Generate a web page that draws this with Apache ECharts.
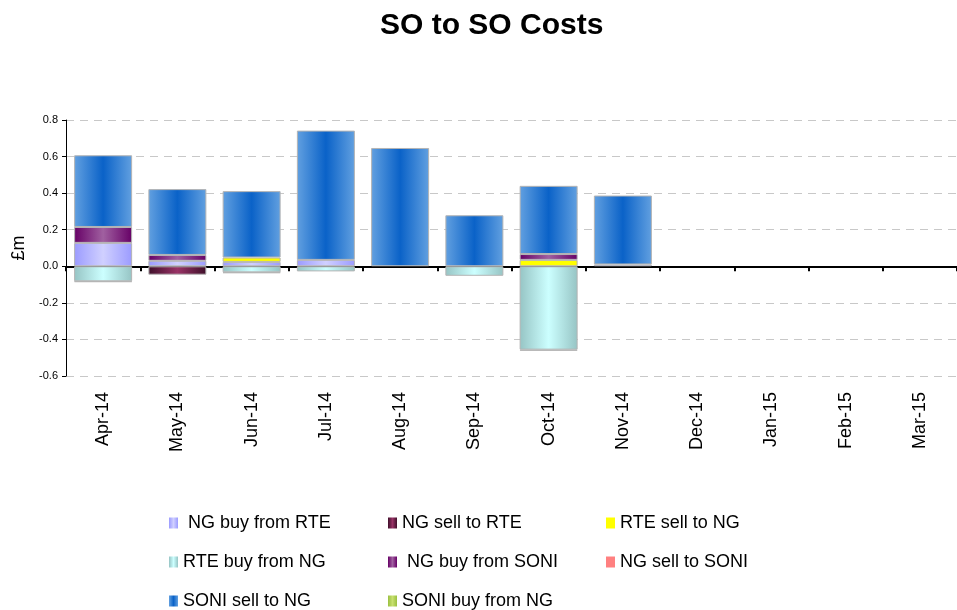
<!DOCTYPE html>
<html style="height: 100%">
<head>
  <meta charset="utf-8">
  <title>SO to SO Costs</title>
</head>
<body style="height: 100%; margin: 0; background: #fff">
  <div id="container" style="width: 957px; height: 610px"></div>
  <script src="https://cdn.jsdelivr.net/npm/echarts@6/dist/echarts.min.js"></script>
  <script>
    // 数据
    const months = ['Apr-14', 'May-14', 'Jun-14', 'Jul-14', 'Aug-14', 'Sep-14', 'Oct-14', 'Nov-14', 'Dec-14', 'Jan-15', 'Feb-15', 'Mar-15'];
    const ngBuyFromRte = [0.128, 0.030, 0.024, 0.035, null, null, null, 0.010, null, null, null, null];
    const ngSellToRte = [null, -0.046, null, null, null, null, null, null, null, null, null, null];
    const rteSellToNg = [null, null, 0.024, null, null, null, 0.035, null, null, null, null, null];
    const rteBuyFromNg = [-0.082, null, -0.033, -0.028, null, -0.052, -0.456, null, null, null, null, null];
    const ngBuyFromSoni = [0.087, 0.032, null, null, null, null, 0.032, null, null, null, null, null];
    const ngSellToSoni = [null, null, null, null, null, null, null, null, null, null, null, null];
    const soniSellToNg = [0.392, 0.360, 0.363, 0.707, 0.647, 0.279, 0.373, 0.377, null, null, null, null];
    const soniBuyFromNg = [-0.004, null, -0.004, null, null, null, -0.006, null, null, null, null, null];
    const yTicks = { min: -0.6, max: 0.8, step: 0.2 };

    const grad = (edge, mid) => new echarts.graphic.LinearGradient(0, 0, 1, 0, [
      { offset: 0, color: edge },
      { offset: 0.5, color: mid },
      { offset: 1, color: edge }
    ]);

    const defs = [
      ['NG buy from RTE', ngBuyFromRte, grad('#9b9bff', '#d0d0ff')],
      ['NG sell to RTE', ngSellToRte, grad('#3f0f2a', '#993366')],
      ['RTE sell to NG', rteSellToNg, '#ffff00'],
      ['RTE buy from NG', rteBuyFromNg, grad('#96c4c4', '#ccffff')],
      ['NG buy from SONI', ngBuyFromSoni, grad('#660066', '#a060a0')],
      ['NG sell to SONI', ngSellToSoni, '#ff8080'],
      ['SONI sell to NG', soniSellToNg, grad('#62a0e0', '#0a62c8')],
      ['SONI buy from NG', soniBuyFromNg, grad('#9ac040', '#c8e070')]
    ];

    const series = defs.map(d => ({
      name: d[0],
      type: 'bar',
      stack: 'all',
      barWidth: 58,
      data: d[1],
      itemStyle: { color: d[2], borderColor: '#b4b4b4', borderWidth: 1 }
    }));

    const legendBase = {
      orient: 'vertical',
      padding: 0,
      itemWidth: 9,
      itemHeight: 11,
      itemGap: 21,
      icon: 'rect',
      itemStyle: { borderWidth: 0 },
      textStyle: { fontSize: 18, color: '#000', fontFamily: 'Liberation Sans' },
      formatter: n => (n.indexOf('NG buy') === 0 ? ' ' + n : n)
    };

    let myChart = echarts.init(document.getElementById('container'));
    myChart.setOption({
      animation: false,
      title: {
        text: 'SO to SO Costs',
        left: 380,
        top: 11,
        padding: 0,
        textStyle: { fontSize: 30, fontWeight: 'bold', color: '#000', fontFamily: 'Liberation Sans' }
      },
      legend: [
        Object.assign({}, legendBase, { left: 169, top: 514, data: ['NG buy from RTE', 'RTE buy from NG', 'SONI sell to NG'] }),
        Object.assign({}, legendBase, { left: 388, top: 514, data: ['NG sell to RTE', 'NG buy from SONI', 'SONI buy from NG'] }),
        Object.assign({}, legendBase, { left: 606, top: 514, data: ['RTE sell to NG', 'NG sell to SONI'] })
      ],
      grid: { left: 66, top: 120, width: 901, height: 256 },
      xAxis: [
        {
          type: 'category',
          data: months,
          position: 'bottom',
          axisLine: { show: false, onZero: false },
          axisTick: { show: false },
          axisLabel: { rotate: 90, fontSize: 18, color: '#000', margin: 16, fontFamily: 'Liberation Sans' }
        },
        {
          type: 'category',
          data: months,
          position: 'bottom',
          axisLine: { show: true, onZero: true, lineStyle: { color: '#000', width: 2 } },
          axisTick: { show: true, length: 5, lineStyle: { color: '#000', width: 2 } },
          axisLabel: { show: false }
        }
      ],
      yAxis: {
        type: 'value',
        name: '£m',
        nameLocation: 'middle',
        nameGap: 38,
        nameTextStyle: { fontSize: 18, color: '#000', fontFamily: 'Liberation Sans' },
        min: yTicks.min,
        max: yTicks.max,
        interval: yTicks.step,
        axisLine: { show: true, lineStyle: { color: '#000' } },
        axisTick: { show: true, length: 4, lineStyle: { color: '#000' } },
        axisLabel: { fontSize: 11, color: '#000', formatter: v => v.toFixed(1), fontFamily: 'Liberation Sans' },
        splitLine: { show: true, lineStyle: { color: '#c8c8c8', type: [8, 6] } }
      },
      series: series
    });
  </script>
</body>
</html>
